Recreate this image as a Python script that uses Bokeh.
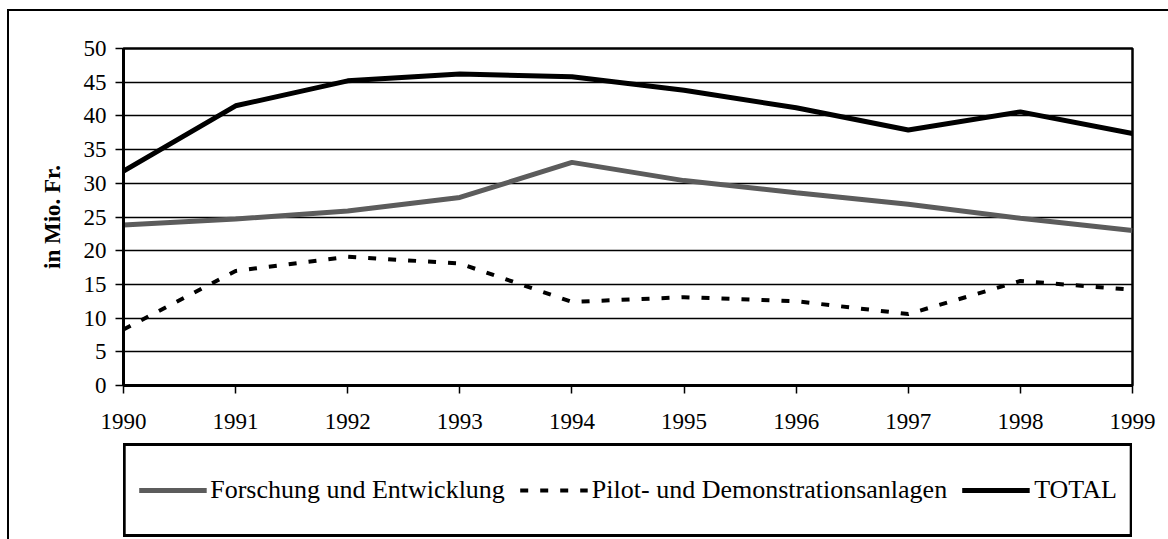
from bokeh.plotting import figure
from bokeh.layouts import column
from bokeh.models import (Range1d, FixedTicker, Legend, LegendItem)
from bokeh.embed import file_html
from bokeh.resources import INLINE

years = [1990, 1991, 1992, 1993, 1994, 1995, 1996, 1997, 1998, 1999]
forschung = [23.8, 24.7, 25.9, 27.9, 33.1, 30.4, 28.6, 26.9, 24.8, 23.0]
pilot = [8.3, 17.0, 19.1, 18.1, 12.4, 13.1, 12.5, 10.6, 15.5, 14.2]
total = [31.8, 41.5, 45.2, 46.2, 45.8, 43.8, 41.2, 37.9, 40.6, 37.4]
y_ticks = [0, 5, 10, 15, 20, 25, 30, 35, 40, 45, 50]
labels = ["Forschung und Entwicklung", "Pilot- und Demonstrationsanlagen", "TOTAL"]
series = [forschung, pilot, total]

FONT = "Liberation Serif"
styles = [dict(line_color="#5c5c5c", line_width=5),
          dict(line_color="black", line_width=4, line_dash="8 12"),
          dict(line_color="black", line_width=5)]

W = 1159
p = figure(width=W, height=430, output_backend="svg", toolbar_location=None,
           x_range=Range1d(1990, 1999), y_range=Range1d(0, 50),
           min_border_left=114, min_border_right=36, min_border_top=37,
           min_border_bottom=56)

p.outline_line_color = "black"
p.outline_line_width = 2.5
p.background_fill_color = "white"
p.border_fill_color = "white"

p.xgrid.grid_line_color = None
p.ygrid.grid_line_color = "black"
p.ygrid.grid_line_width = 1.5
p.ygrid.ticker = FixedTicker(ticks=y_ticks)

p.xaxis.ticker = FixedTicker(ticks=years)
p.yaxis.ticker = FixedTicker(ticks=y_ticks)
for ax in (p.xaxis[0], p.yaxis[0]):
    ax.axis_line_color = "black"
    ax.axis_line_width = 3
    ax.major_tick_line_color = "black"
    ax.major_tick_line_width = 1.5
    ax.major_tick_out = 8
    ax.major_tick_in = 0
    ax.minor_tick_line_color = None
    ax.major_label_text_font = FONT
    ax.major_label_text_font_size = "23px"
    ax.major_label_text_color = "black"
p.xaxis.major_label_standoff = 20
p.yaxis.major_label_standoff = 9

p.yaxis.axis_label = "in Mio. Fr."
p.yaxis.axis_label_text_font = FONT
p.yaxis.axis_label_text_font_size = "23px"
p.yaxis.axis_label_text_font_style = "bold"
p.yaxis.axis_label_text_color = "black"
p.yaxis.axis_label_standoff = 16

for s, st in zip(series, styles):
    p.line(years, s, **st)

# legend panel (separate figure below the chart); its lines lie outside its
# visible range, only their legend samples are shown
pl = figure(width=W, height=98, output_backend="svg", toolbar_location=None,
            x_range=Range1d(0, 1), y_range=Range1d(0, 1),
            x_axis_type=None, y_axis_type=None,
            min_border_left=114, min_border_right=36, min_border_top=2,
            min_border_bottom=0)
pl.grid.visible = False
pl.outline_line_color = None
pl.background_fill_color = "white"
pl.border_fill_color = "white"
legend_lines = [pl.line(years, s, **st) for s, st in zip(series, styles)]

legend = Legend(items=[LegendItem(label=lab, renderers=[r])
                       for lab, r in zip(labels, legend_lines)],
                orientation="horizontal", location="top_center",
                label_text_font=FONT, label_text_font_size="26px",
                label_text_color="black",
                glyph_width=68, glyph_height=62, label_height=62,
                label_standoff=4, spacing=15, padding=13, margin=0,
                border_line_color="black", border_line_width=3,
                border_line_alpha=1,
                background_fill_color="white", background_fill_alpha=1)
pl.add_layout(legend)

layout = column(p, pl, spacing=0)
layout.styles = {"border-left": "2px solid black", "border-top": "2px solid black",
                 "margin-left": "7px", "margin-top": "9px"}

open("out.html", "w").write(file_html(layout, INLINE))
